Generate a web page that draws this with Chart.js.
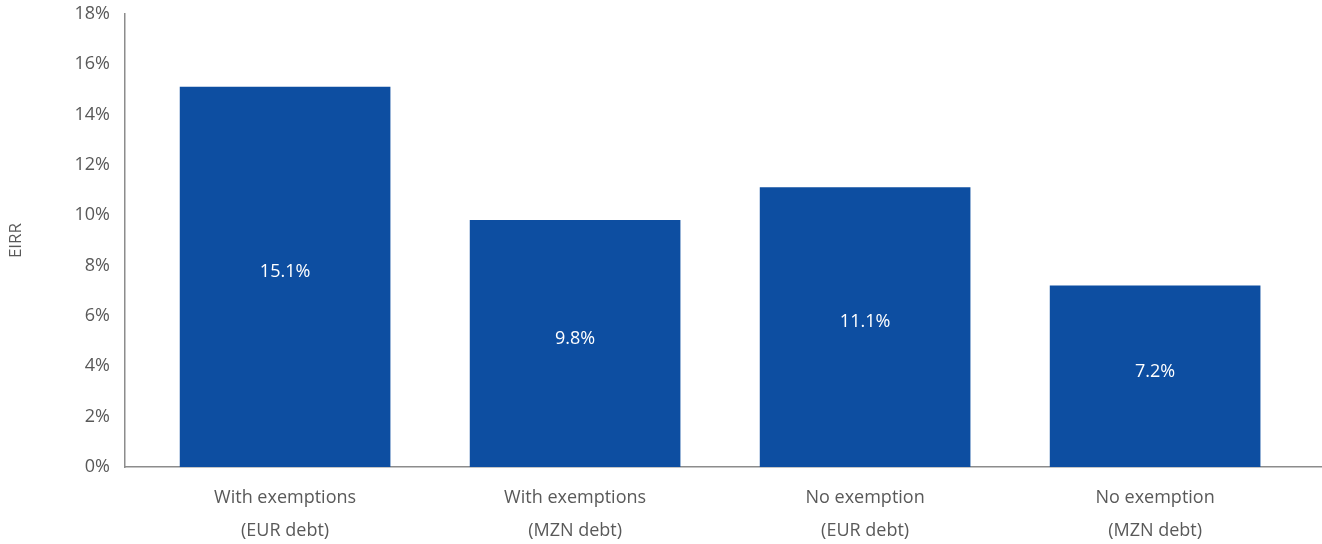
<!DOCTYPE html>
<html>
<head>
<meta charset="utf-8">
<script src="https://cdn.jsdelivr.net/npm/chart.js@4"></script>
<style>
  html, body { margin: 0; padding: 0; background: #fff; }
  #wrap { width: 1322px; height: 544px; }
</style>
</head>
<body>
<div id="wrap"><canvas id="chart"></canvas></div>
<script>
const categories = [
    ['With exemptions', '(EUR debt)'],
    ['With exemptions', '(MZN debt)'],
    ['No exemption', '(EUR debt)'],
    ['No exemption', '(MZN debt)']
];
const eirrValues = [15.1, 9.8, 11.1, 7.2];
const yTicks = [0, 2, 4, 6, 8, 10, 12, 14, 16, 18];

const TEXT = '#595959';
const FONT = "'Open Sans', 'Noto Sans', sans-serif";

// white value labels in the middle of each bar
const barLabels = {
    id: 'barLabels',
    afterDatasetsDraw(chart) {
        const ctx = chart.ctx;
        const meta = chart.getDatasetMeta(0);
        ctx.save();
        ctx.fillStyle = '#ffffff';
        ctx.font = `18px ${FONT}`;
        ctx.textAlign = 'center';
        ctx.textBaseline = 'middle';
        meta.data.forEach((bar, i) => {
            const mid = (bar.y + bar.base) / 2;
            ctx.fillText(eirrValues[i].toFixed(1) + '%', bar.x, mid - 5);
        });
        ctx.restore();
    }
};

new Chart(document.getElementById('chart'), {
    type: 'bar',
    data: {
        datasets: [{
            data: eirrValues.map((v, i) => ({ x: i, y: v })),
            backgroundColor: '#0d4ea1',
            barThickness: 210
        }]
    },
    options: {
        responsive: true,
        maintainAspectRatio: false,
        animation: false,
        layout: { padding: { top: 14, right: 1, left: 0, bottom: 0 } },
        plugins: { legend: { display: false }, tooltip: { enabled: false } },
        scales: {
            x: {
                type: 'linear',
                min: -0.552,
                max: 3.572,
                offset: false,
                bounds: 'data',
                afterBuildTicks: (axis) => { axis.ticks = categories.map((_, i) => ({ value: i })); },
                afterFit: (axis) => { axis.height = 77; },
                grid: { display: false, drawTicks: false, offset: false },
                border: { color: '#8c8c8c', width: 1.5 },
                ticks: {
                    color: TEXT,
                    font: { family: FONT, size: 18, lineHeight: 1.8 },
                    padding: 15,
                    maxRotation: 0,
                    autoSkip: false,
                    callback: (v) => categories[v]
                }
            },
            y: {
                min: 0,
                max: 18,
                afterBuildTicks: (axis) => { axis.ticks = yTicks.map(v => ({ value: v })); },
                afterFit: (axis) => { axis.width = 125; axis.paddingTop = 0; axis.paddingBottom = 0; },
                grid: { display: false, drawTicks: false },
                border: { color: '#8c8c8c', width: 1.5 },
                title: {
                    display: true,
                    text: 'EIRR',
                    color: TEXT,
                    font: { family: FONT, size: 17 },
                    padding: { top: 6, bottom: 0 }
                },
                ticks: {
                    color: TEXT,
                    font: { family: FONT, size: 18 },
                    padding: 15,
                    callback: (v) => v + '%'
                }
            }
        }
    },
    plugins: [barLabels]
});
</script>
</body>
</html>
